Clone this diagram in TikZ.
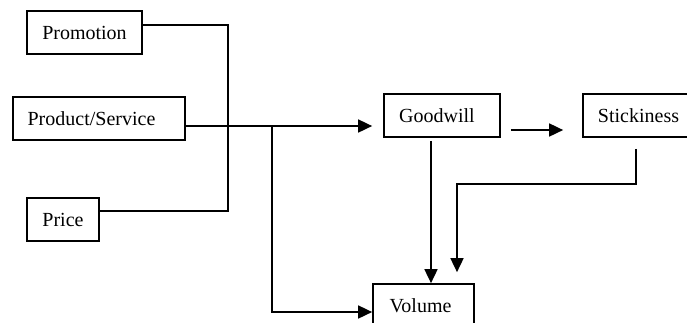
\documentclass[tikz,border=0pt]{standalone}
\usepackage{fontspec}
\setmainfont{Liberation Serif}
\usetikzlibrary{arrows.meta}

\tikzset{
  every block/.style={draw, line width=1.7pt, minimum height=43pt, inner sep=0pt,
    font=\fontsize{20}{24}\selectfont},
  link/.style={line width=1.7pt}
}

\begin{document}
\begin{tikzpicture}[x=1pt, y=-1pt, >={Triangle[length=14pt,width=13pt]}]
        
        \clip (0,0) rectangle (687,322);
        
        % boxes
        \node [every block, minimum width=115pt] (promotion) at (84.5,32.5) {Promotion};
        \node [every block, minimum width=172pt] (product) at (99,118.5) {Product/Service\hspace*{15pt}};
        \node [every block, minimum width=72pt] (price) at (63,219.5) {Price};
        \node [every block, minimum width=116pt] (goodwill) at (442,115.5) {Goodwill\hspace*{10pt}};
        \node [every block, minimum width=111pt] (stickiness) at (638.5,115.5) {Stickiness};
        \node [every block, minimum width=101pt] (volume) at (423.5,305.5) {Volume\hspace*{6pt}};
        
        % junctions
        \coordinate (top) at (228,25);
        \coordinate (bottom) at (228,211);
        \coordinate (split) at (272,126);
        \coordinate (corner) at (272,312);
        \coordinate (mid) at (540,130);
        \coordinate (down) at (431,0);
        \coordinate (stick-bend) at (636,184);
        \coordinate (stick-turn) at (457,184);
        
        % connectors
        \draw [link] (promotion.east |- top) -- (top) -- (bottom) -- (price.east |- bottom);
        \draw [link, ->, shorten >=11pt] (product.east |- split) -- (goodwill.west |- split);
        \draw [link, ->] (split) -- (corner) -- (volume.west |- corner);
        \draw [link, ->, shorten <=10pt, shorten >=19pt] (goodwill.east |- mid) -- (stickiness.west |- mid);
        \draw [link, ->, shorten <=3pt] (goodwill.south -| down) -- (volume.north -| down);
        \draw [link, ->, shorten <=11pt, shorten >=11pt] (stickiness.south -| stick-bend) -- (stick-bend) -- (stick-turn) -- (volume.north -| stick-turn);
        
\end{tikzpicture}
\end{document}
